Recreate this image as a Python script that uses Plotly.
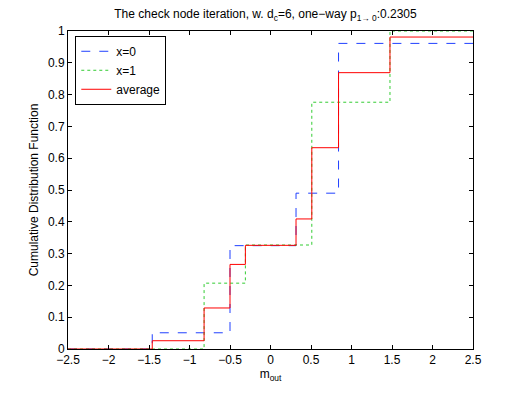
import plotly.graph_objects as go

# step locations of the empirical CDFs (m_out)
m_out = [-2.5, -1.46, -0.82, -0.5, -0.31, 0.315, 0.51, 0.84, 1.475, 2.5]

# CDF values after each step
cdf_x0 = [0, 0.051, 0.051, 0.325, 0.325, 0.49, 0.49, 0.961, 0.961, 0.961]
cdf_x1 = [0, 0, 0.207, 0.207, 0.327, 0.327, 0.776, 0.776, 1.0, 1.0]
cdf_avg = [0, 0.026, 0.129, 0.266, 0.326, 0.409, 0.633, 0.869, 0.981, 0.981]

x_ticks = [-2.5, -2, -1.5, -1, -0.5, 0, 0.5, 1, 1.5, 2, 2.5]
y_ticks = [0, 0.1, 0.2, 0.3, 0.4, 0.5, 0.6, 0.7, 0.8, 0.9, 1]

fig = go.Figure()

fig.add_trace(go.Scatter(x=m_out, y=cdf_x0, name="x=0", mode="lines", line_shape="hv",
                         line=dict(color="#2040ff", width=1, dash="dash")))
fig.add_trace(go.Scatter(x=m_out, y=cdf_x1, name="x=1", mode="lines", line_shape="hv",
                         line=dict(color="#33cc33", width=1, dash="dot")))
fig.add_trace(go.Scatter(x=m_out, y=cdf_avg, name="average", mode="lines", line_shape="hv",
                         line=dict(color="#ff0000", width=1)))

axis_style = dict(showgrid=False, zeroline=False, showline=True, linecolor="black", linewidth=1,
                  mirror="ticks", ticks="inside", ticklen=4, tickcolor="black",
                  tickfont=dict(size=12, color="black"))

# the page adds an 8px body margin, so the figure is a bit smaller than the window
fig.update_layout(
    width=515, height=385,
    margin=dict(l=60, r=50, t=23, b=44),
    paper_bgcolor="white", plot_bgcolor="white",
    font=dict(family="Liberation Sans, Arial, sans-serif", size=12, color="black"),
    title=dict(text="The check node iteration, w. d<sub>c</sub>=6, one\u2212way p<sub>1\u2192 0</sub>:0.2305",
               x=0.5, xanchor="center", y=0.995, yanchor="top", font=dict(size=12)),
    showlegend=True,
    legend=dict(x=0.018, y=0.985, xanchor="left", yanchor="top", bgcolor="white",
                bordercolor="black", borderwidth=1, font=dict(size=12),
                tracegroupgap=0, itemwidth=30),
)
fig.update_xaxes(range=[-2.5, 2.5], tickvals=x_ticks, ticktext=[f"{v:g}".replace("-", "\u2212") for v in x_ticks],
                 title=dict(text="m<sub>out</sub>", standoff=2, font=dict(size=12)), **axis_style)
fig.update_yaxes(range=[0, 1], tickvals=y_ticks, ticktext=[f"{v:g}" for v in y_ticks],
                 title=dict(text="Cumulative Distribution Function", standoff=6, font=dict(size=12)), **axis_style)

fig.write_html("out.html")
